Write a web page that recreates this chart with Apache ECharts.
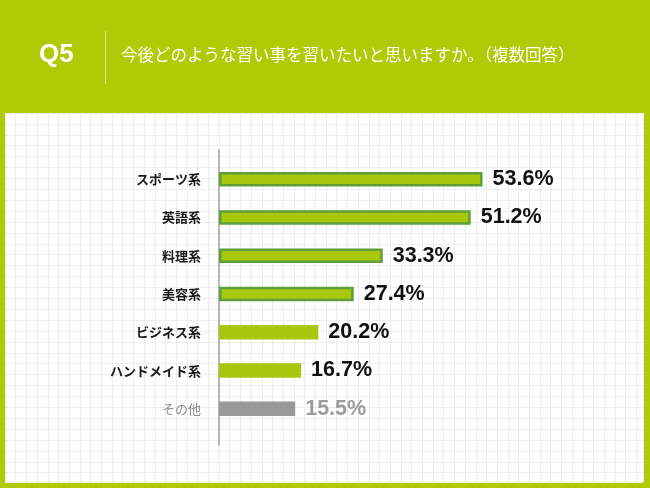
<!DOCTYPE html>
<html>
<head>
<meta charset="utf-8">
<style>
html,body{margin:0;padding:0;background:#AECB05;}
#c{width:650px;height:488px;}
</style>
<script src="https://cdn.jsdelivr.net/npm/echarts@6/dist/echarts.min.js"></script>
</head>
<body>
<div id="c"></div>
<script>
var categories = ['スポーツ系','英語系','料理系','美容系','ビジネス系','ハンドメイド系','その他'];
var values = [53.6, 51.2, 33.3, 27.4, 20.2, 16.7, 15.5];
var titleQ = 'Q5';
var titleText = '今後どのような習い事を習いたいと思いますか。（複数回答）';

var FILL = '#A8C80E', BORDER = '#5E9E3B', GRAY = '#999999';
var nBordered = 4;
var last = categories.length - 1;

var catData = categories.map(function(c, i){
  return {value: c, textStyle: i === last ?
    {color:'#8a8a8a', fontWeight:'normal'} : {color:'#1a1a1a', fontWeight:'bold'}};
});
var barData = values.map(function(v, i){
  var item = {value: v};
  if (i === last) {
    item.itemStyle = {color: GRAY};
    item.label = {color:'#9c9c9c'};
  } else if (i < nBordered) {
    item.itemStyle = {color: FILL, borderColor: BORDER, borderWidth: 2.5};
  } else {
    item.itemStyle = {color: FILL};
  }
  return item;
});

var chart = echarts.init(document.getElementById('c'));
chart.setOption({
  backgroundColor: '#AECB05',
  animation: false,
  graphic: [
    {type:'rect', z:-10, shape:{x:5, y:113, width:638, height:369}, style:{fill:'#ffffff'}, silent:true},
    {type:'text', style:{x:39, y:55, verticalAlign:'middle', text:titleQ, fill:'#ffffff', font:'bold 26px "Liberation Sans", Arial, sans-serif'}},
    {type:'line', shape:{x1:105.5, y1:31, x2:105.5, y2:84}, style:{stroke:'rgba(255,255,255,0.55)', lineWidth:1}},
    {type:'text', style:{x:121, y:55, verticalAlign:'middle', text:titleText, fill:'#ffffff', font:'16.5px "Noto Sans CJK JP", sans-serif'}}
  ],
  grid: [
    {left:219, top:160, width:295, height:268, containLabel:false},
    {left:5, top:113, width:638, height:369, containLabel:false, z:0},
    {left:219, top:150, width:1, height:295, containLabel:false}
  ],
  xAxis: [
    {gridIndex:0, type:'value', min:0, max:60, show:false, splitLine:{show:false}},
    {gridIndex:1, type:'value', min:0, max:638, interval:10.7, axisLine:{show:false}, axisTick:{show:false}, axisLabel:{show:false},
      splitLine:{show:true, lineStyle:{color:'#ededed', width:1}}, z:0},
    {gridIndex:2, type:'value', min:0, max:1, show:false}
  ],
  yAxis: [
    {gridIndex:0, type:'category', inverse:true, data:catData,
      axisLine:{show:false}, axisTick:{show:false},
      axisLabel:{margin:18, fontSize:13, fontFamily:'"Noto Sans CJK JP", sans-serif'}},
    {gridIndex:1, type:'value', min:0, max:369, interval:10.9, inverse:true, axisLine:{show:false}, axisTick:{show:false}, axisLabel:{show:false},
      splitLine:{show:true, lineStyle:{color:'#ededed', width:1}}, z:0},
    {gridIndex:2, type:'value', min:0, max:1, axisLine:{show:true, lineStyle:{color:'#a0a0a0', width:1.5}},
      axisTick:{show:false}, axisLabel:{show:false}, splitLine:{show:false}}
  ],
  series: [{
    type:'bar', xAxisIndex:0, yAxisIndex:0, data:barData, barWidth:14.5, z:5,
    label:{show:true, position:'right', distance:10, formatter:function(p){return p.value.toFixed(1)+'%';},
      fontSize:21.5, fontWeight:'bold', color:'#111111', fontFamily:'"Liberation Sans", Arial, sans-serif'}
  }]
});
</script>
</body>
</html>
